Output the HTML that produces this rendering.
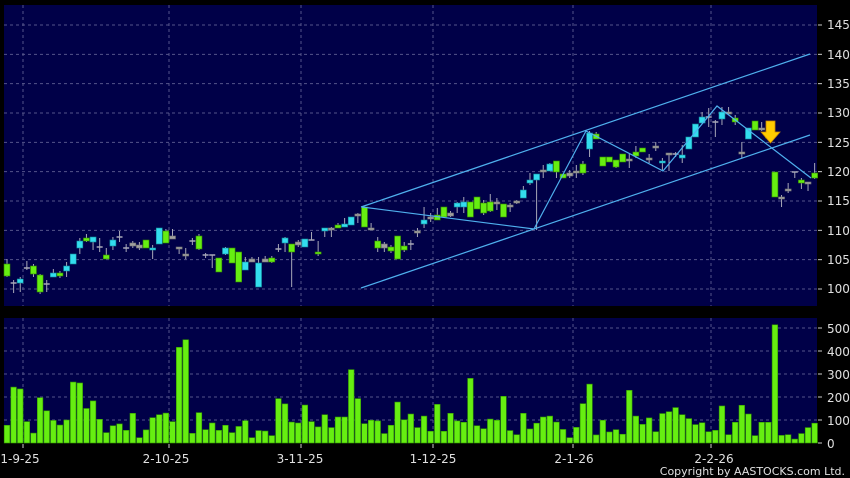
<!DOCTYPE html>
<html><head><meta charset="utf-8"><style>
html,body{margin:0;padding:0;background:#000;}
svg{display:block;font-family:"DejaVu Sans","Liberation Sans",sans-serif;}
</style></head><body>
<svg id="s" width="850" height="478" viewBox="0 0 850 478" xmlns="http://www.w3.org/2000/svg">
<rect width="850" height="478" fill="#000"/>
<rect x="4" y="5" width="813" height="301" fill="#000048"/>
<rect x="4" y="318" width="813" height="125" fill="#000048"/>
<g id="grid" stroke="#55558a" stroke-width="1" stroke-dasharray="3,3"></g>
<g id="cand"></g>
<g id="vol"></g>
<g fill="none" stroke="#4fb0ee" stroke-width="1.2">
<line x1="361" y1="207" x2="810" y2="54"/>
<line x1="361" y1="288" x2="810" y2="135"/>
<polyline points="362,207 534,229 586,131 663,171 717,106 811,178"/>
</g>
<polygon points="766,121 775,121 775,132 780,132 770.5,143 761,132 766,132" fill="#ffcc00" stroke="#cc8800" stroke-width="0.8"/>
<g fill="#e0e0e0" font-size="12">
<text x="827" y="29">145</text><text x="827" y="59">140</text><text x="827" y="88">135</text>
<text x="827" y="117">130</text><text x="827" y="147">125</text><text x="827" y="176">120</text>
<text x="827" y="205">115</text><text x="827" y="235">110</text><text x="827" y="264">105</text>
<text x="827" y="293">100</text>
<text x="827" y="333">500</text><text x="827" y="356">400</text><text x="827" y="379">300</text>
<text x="827" y="402">200</text><text x="827" y="425">100</text><text x="827" y="448">0</text>
<g text-anchor="middle">
<text x="20" y="463">1-9-25</text><text x="166" y="463">2-10-25</text><text x="300" y="463">3-11-25</text>
<text x="433" y="463">1-12-25</text><text x="574" y="463">2-1-26</text><text x="714" y="463">2-2-26</text>
</g>
<text x="845" y="475" text-anchor="end" font-size="11">Copyright by AASTOCKS.com Ltd.</text>
</g>
</svg>
<script>
var NS="http://www.w3.org/2000/svg";
function el(p,t,a){var e=document.createElementNS(NS,t);for(var k in a)e.setAttribute(k,a[k]);p.appendChild(e);return e;}
var g=document.getElementById('grid'),s=document.getElementById('s');
for(var p=100;p<=145;p+=5){var y=289-(p-100)*5.867;el(g,'line',{x1:4,x2:817,y1:y,y2:y});el(s,'line',{x1:818,x2:822,y1:y,y2:y,stroke:'#ccc'});}
for(var v=100;v<=500;v+=100){var y=443-v*0.23;el(g,'line',{x1:4,x2:817,y1:y,y2:y});}
[0,100,200,300,400,500].forEach(function(v){var y=443-v*0.23;el(s,'line',{x1:818,x2:822,y1:y,y2:y,stroke:'#ccc'});});
[23,169,301,433,573,711].forEach(function(x){el(g,'line',{x1:x,x2:x,y1:5,y2:306});el(g,'line',{x1:x,x2:x,y1:318,y2:443});el(s,'line',{x1:x,x2:x,y1:444,y2:448,stroke:'#ccc'});});
var vols=[77,243,235,93,43,197,140,98,78,100,265,261,150,183,103,45,75,83,55,129,23,57,110,123,130,93,416,449,42,132,58,87,55,77,45,72,97,23,54,52,32,193,170,91,87,
165,93,70,123,67,113,113,319,193,84,99,96,41,77,178,101,126,67,117,51,168,51,129,96,90,281,75,62,104,99,203,54,36,129,61,86,113,117,91,59,23,68,171,256,35,
99,48,58,38,229,117,81,109,49,128,136,154,123,106,80,88,49,55,161,36,90,164,126,32,90,90,514,33,36,17,41,67,86];
var vg=document.getElementById('vol');
vols.forEach(function(v,i){var x=7+i*6.62,h=v*0.23;el(vg,'rect',{x:x-2.8,y:443-h,width:5.6,height:h,fill:'#66ee11',stroke:'#339900','stroke-width':0.6});});
// [bodyTop, bodyBot, wickTop, wickBot, color]
var C=[[264,276,259,277,'g'],[283,283,280,293,'n'],[279,283,277,292,'c'],[268,268,261,270,'n'],[266,274,264,277,'g'],[275,292,274,294,'g'],[284,284,280,292,'n'],[273,277,269,277,'c'],[273,276,271,278,'g'],[266,271,262,277,'c'],
[254,264,254,264,'c'],[241,248,238,254,'c'],[238,241,234,242,'g'],[237,242,237,250,'c'],[247,247,238,252,'n'],[255,259,248,259,'g'],[240,246,237,250,'c'],[237,237,231,242,'n'],[248,248,244,252,'n'],[243,246,241,248,'n'],
[245,248,242,250,'n'],[240,248,240,248,'g'],[248,250,245,259,'c'],[228,244,228,244,'c'],[231,243,229,243,'g'],[236,239,229,239,'n'],[247,249,247,254,'n'],[254,256,248,259,'n'],[241,241,238,245,'n'],[236,249,234,250,'g'],
[255,255,253,258,'n'],[255,255,255,268,'n'],[258,272,258,272,'g'],[248,254,247,255,'c'],[248,263,248,263,'g'],[252,282,252,282,'g'],[262,270,257,270,'c'],[259,262,257,262,'n'],[263,287,257,287,'c'],[259,262,256,262,'n'],
[258,262,256,263,'g'],[249,249,244,252,'n'],[238,243,237,252,'c'],[244,252,244,287,'g'],[242,245,240,247,'n'],[239,247,239,247,'c'],[240,240,232,240,'n'],[252,254,241,256,'g'],[228,231,228,237,'c'],[228,230,227,237,'n'],
[225,228,223,228,'g'],[224,227,218,227,'c'],[217,225,217,225,'c'],[214,216,213,223,'n'],[207,227,207,227,'g'],[228,230,223,230,'n'],[241,248,237,252,'g'],[244,248,242,252,'n'],[247,251,245,253,'g'],[236,259,236,259,'g'],
[246,250,242,252,'g'],[244,244,240,250,'n'],[231,232,228,237,'n'],[220,224,207,228,'c'],[217,218,213,222,'n'],[215,220,208,220,'g'],[207,217,207,217,'g'],[213,216,211,217,'n'],[203,207,202,213,'c'],[202,207,197,213,'c'],
[202,217,202,217,'g'],[197,209,197,209,'g'],[203,213,200,215,'g'],[202,211,194,212,'g'],[202,204,198,210,'n'],[204,217,204,217,'g'],[205,207,203,212,'n'],[201,203,200,204,'n'],[190,198,186,198,'c'],[180,183,173,185,'c'],
[174,180,174,230,'c'],[170,172,165,178,'n'],[164,171,163,171,'c'],[161,172,161,178,'g'],[174,178,174,178,'g'],[173,176,170,178,'n'],[171,173,165,178,'n'],[164,173,161,175,'g'],[133,149,131,157,'c'],[134,139,132,139,'g'],
[157,166,157,166,'g'],[157,162,157,162,'g'],[160,167,160,168,'g'],[154,162,154,162,'g'],[159,161,154,168,'n'],[152,156,146,158,'g'],[148,152,148,152,'g'],[158,160,154,163,'n'],[146,148,142,151,'n'],[161,163,158,170,'c'],
[153,155,153,171,'n'],[154,154,152,157,'n'],[155,158,145,163,'c'],[137,149,137,149,'c'],[124,137,124,137,'c'],[117,123,112,124,'c'],[117,117,108,127,'n'],[122,122,120,137,'n'],[112,119,107,125,'c'],[112,114,107,115,'n'],
[118,122,115,125,'g'],[152,154,142,158,'n'],[128,139,128,139,'c'],[121,130,121,130,'g'],[128,130,122,131,'n'],[133,138,130,140,'g'],[172,197,172,197,'g'],[197,198,195,207,'n'],[189,191,183,193,'n'],[172,172,172,178,'n'],
[180,183,178,189,'g'],[182,183,182,191,'n'],[173,178,163,179,'g']];
var cg=document.getElementById('cand');
var col={g:'#66ee11',c:'#33ddee',n:'#a0a0a0'},bd={g:'#338800',c:'#118899',n:'#707070'};
C.forEach(function(c,i){var x=7+i*6.62;
el(cg,'line',{x1:x,x2:x,y1:c[2],y2:c[3],stroke:'#a8a8b8','stroke-width':1});
if(c[4]=='n'&&c[1]-c[0]<1){el(cg,'line',{x1:x-3,x2:x+3,y1:c[0],y2:c[0],stroke:'#a8a8b8','stroke-width':1.5});}
else{var h=Math.max(2,c[1]-c[0]);el(cg,'rect',{x:x-3,y:c[0],width:6,height:h,fill:col[c[4]],stroke:bd[c[4]],'stroke-width':0.6});}
});
</script>
</body></html>
